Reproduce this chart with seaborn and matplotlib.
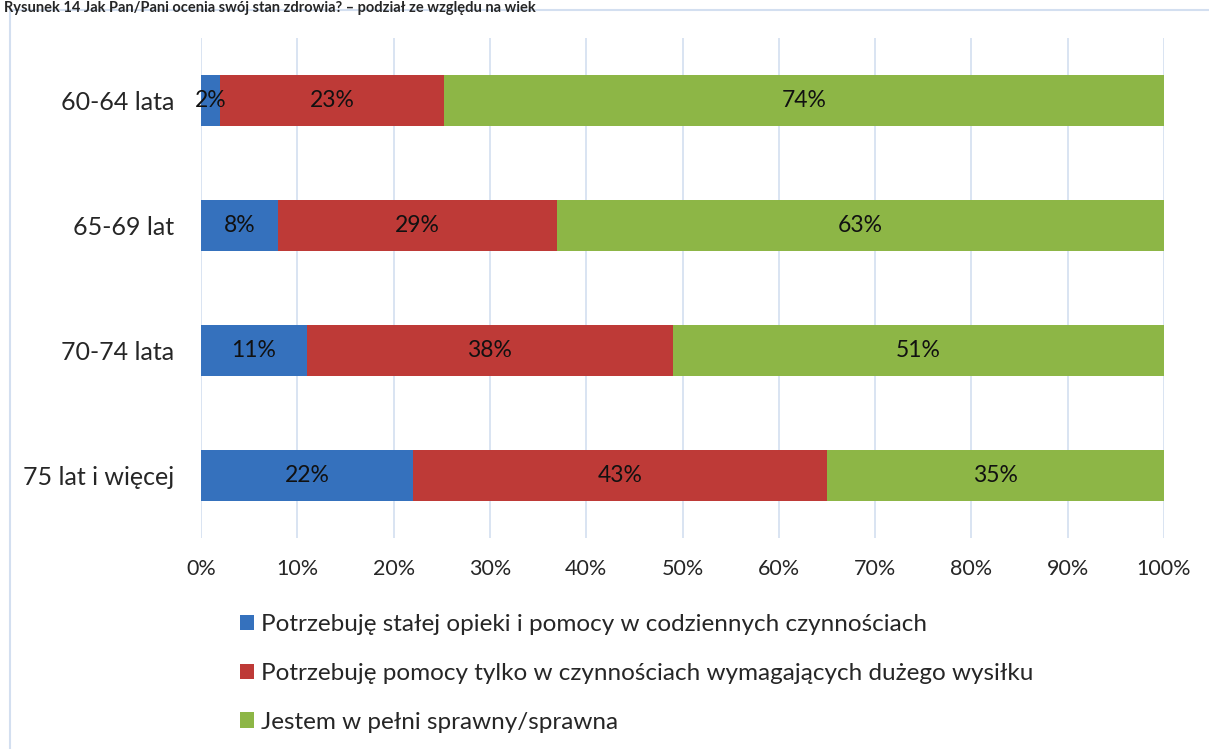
import numpy as np
import pandas as pd
import matplotlib
matplotlib.use("Agg")
import matplotlib.pyplot as plt
import seaborn as sns
from matplotlib.patches import Rectangle, Patch

# --- dane ---
grupy = ["60-64 lata", "65-69 lat", "70-74 lata", "75 lat i więcej"]
opieka = [2, 8, 11, 22]
pomoc = [23, 29, 38, 43]
sprawny = [74, 63, 51, 35]
serie = [
    "Potrzebuję stałej opieki i pomocy w codziennych czynnościach",
    "Potrzebuję pomocy tylko w czynnościach wymagających dużego wysiłku",
    "Jestem w pełni sprawny/sprawna",
]
kolory = ["#3571BD", "#BE3A37", "#8DB646"]
tytul = "Rysunek 14 Jak Pan/Pani ocenia swój stan zdrowia? – podział ze względu na wiek"

sns.set_theme(style="white")
plt.rcParams["font.family"] = ["Lato", "DejaVu Sans"]

df = pd.DataFrame({"grupa": grupy, "s1": opieka, "s2": pomoc, "s3": sprawny})
suma = df[["s1", "s2", "s3"]].sum(axis=1)
# wykres 100% skumulowany - normalizacja jak w Excelu
df["c1"] = df["s1"] / suma * 100
df["c2"] = (df["s1"] + df["s2"]) / suma * 100
df["c3"] = (df["s1"] + df["s2"] + df["s3"]) / suma * 100

fig = plt.figure(figsize=(12.09, 7.49), dpi=100)
W, H = 1209, 749
ax = fig.add_axes([201 / W, 1 - 538 / H, (1164 - 201) / W, (538 - 38) / H])

# obramowanie wykresu
fig.patches.append(Rectangle((10 / W, -0.01), 1.02, 1 - 10 / H + 0.01, transform=fig.transFigure,
                             fill=False, edgecolor="#D3DFF0", linewidth=1.5))

for col, kol in zip(["c3", "c2", "c1"], kolory[::-1]):
    sns.barplot(data=df, x=col, y="grupa", color=kol, width=0.41, ax=ax,
                orient="h", saturation=1, edgecolor="none")

# etykiety
for i, row in df.iterrows():
    starts = [0, row["c1"], row["c2"]]
    ends = [row["c1"], row["c2"], row["c3"]]
    vals = [row["s1"], row["s2"], row["s3"]]
    for s, e, v in zip(starts, ends, vals):
        ax.text((s + e) / 2, i, f"{v}%", ha="center", va="center", fontsize=16.5, color="#111111")

ax.set_xlim(0, 100)
ax.set_ylim(3.5, -0.5)
ax.set_xticks(np.arange(0, 101, 10))
ax.set_xticklabels([f"{t}%" for t in range(0, 101, 10)], fontsize=15.5)
ax.tick_params(axis="x", pad=15, length=0)
ax.tick_params(axis="y", labelsize=18, pad=19, length=0)
ax.set_xlabel("")
ax.set_ylabel("")
ax.grid(axis="x", color="#D3DFF0", linewidth=1.2)
ax.set_axisbelow(True)
for sp in ax.spines.values():
    sp.set_visible(False)

uchwyty = [Patch(facecolor=k, edgecolor="none") for k in kolory]
fig.legend(uchwyty, serie, loc="upper left", bbox_to_anchor=(218 / W, 1 - 592 / H),
           frameon=False, fontsize=17.5, handlelength=0.6, handleheight=0.6,
           handletextpad=0.25, labelspacing=1.15)

fig.text(0.003, 1 - 1 / H, tytul, fontsize=10.5, fontweight="bold", ha="left", va="top")

fig.savefig("out.png", dpi=100)
